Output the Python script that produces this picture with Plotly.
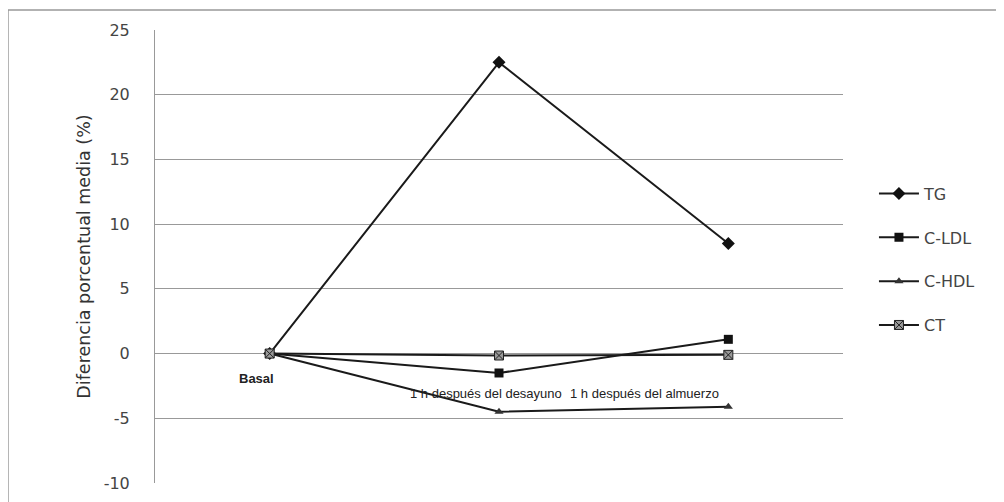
import plotly.graph_objects as go

categories = ["Basal", "1 h después del desayuno", "1 h después del almuerzo"]
tg = [0, 22.5, 8.5]
c_ldl = [0, -1.5, 1.1]
c_hdl = [0, -4.5, -4.1]
ct = [0, -0.15, -0.1]
y_ticks = [-10, -5, 0, 5, 10, 15, 20, 25]
y_tick_labels = [str(v) for v in y_ticks]

fig = go.Figure()
series = [
    ("TG", tg, dict(symbol="diamond", size=10, color="#111111")),
    ("C-LDL", c_ldl, dict(symbol="square", size=9, color="#111111")),
    ("C-HDL", c_hdl, dict(symbol="triangle-up", size=8, color="#333333")),
    ("CT", ct, dict(symbol="square-x", size=9, color="#999999", line=dict(color="#222222", width=1))),
]
for name, vals, mk in series:
    fig.add_trace(go.Scatter(
        x=categories, y=vals, name=name, mode="lines+markers",
        line=dict(color="#1a1a1a", width=2), marker=mk, legendgroup=name,
    ))

# category labels (Excel-style, at the zero axis)
offsets = [(-13, -25, "<b>Basal</b>"), (-13, -40, None), (-84, -40, None)]
for cat, (xs, ys, txt) in zip(categories, offsets):
    fig.add_annotation(x=cat, y=0, xref="x", yref="y", text=txt or cat,
                       showarrow=False, xshift=xs, yshift=ys,
                       font=dict(family="Liberation Sans", size=13, color="#222222"))

fig.add_shape(type="rect", xref="paper", yref="paper",
              x0=-0.2137, x1=1.232, y0=-0.05, y1=1.044,
              line=dict(color="#999999", width=1.5), layer="below")

fig.update_layout(
    width=1004, height=502,
    margin=dict(l=147, r=169, t=22, b=27),
    paper_bgcolor="white", plot_bgcolor="white",
    font=dict(family="DejaVu Sans", color="#444444"),
    showlegend=True,
    legend=dict(x=1.045, y=0.493, xanchor="left", yanchor="middle",
                font=dict(family="DejaVu Sans", size=16, color="#444444"),
                traceorder="grouped", tracegroupgap=20,
                itemwidth=40, bgcolor="rgba(0,0,0,0)"),
    xaxis=dict(type="category", range=[-0.5, 2.5], showticklabels=False,
               showgrid=False, zeroline=False, showline=False, ticks=""),
    yaxis=dict(range=[-10, 25], tickvals=y_ticks, ticktext=y_tick_labels, showgrid=True,
               gridcolor="#999999", gridwidth=1, zeroline=True,
               zerolinecolor="#999999", zerolinewidth=1,
               showline=True, linecolor="#999999", linewidth=1,
               ticks="", ticklabelstandoff=21,
               tickfont=dict(family="DejaVu Sans", size=16, color="#444444"),
               title=dict(text="Diferencia porcentual media (%)", standoff=8,
                          font=dict(family="DejaVu Sans", size=17.5, color="#333333"))),
)

fig.write_html("out.html")
